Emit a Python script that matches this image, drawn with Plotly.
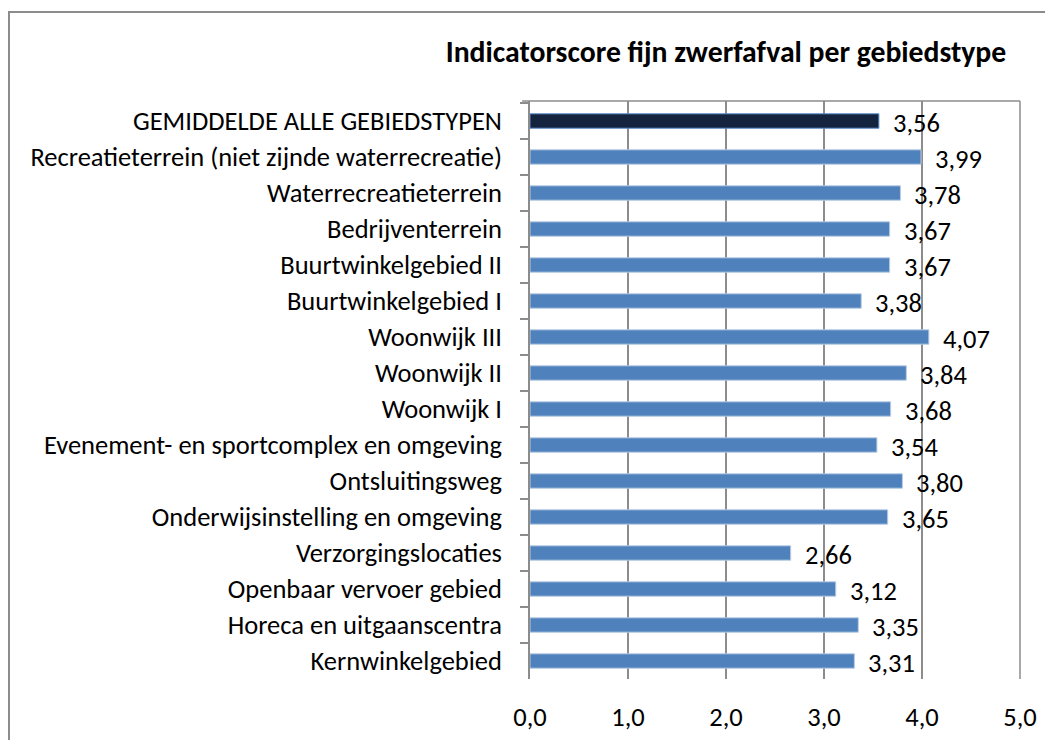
import plotly.graph_objects as go

# data, read top-down from the chart
categories = [
    "GEMIDDELDE ALLE GEBIEDSTYPEN",
    "Recreatieterrein (niet zijnde waterrecreatie)",
    "Waterrecreatieterrein",
    "Bedrijventerrein",
    "Buurtwinkelgebied II",
    "Buurtwinkelgebied I",
    "Woonwijk III",
    "Woonwijk II",
    "Woonwijk I",
    "Evenement- en sportcomplex en omgeving",
    "Ontsluitingsweg",
    "Onderwijsinstelling en omgeving",
    "Verzorgingslocaties",
    "Openbaar vervoer gebied",
    "Horeca en uitgaanscentra",
    "Kernwinkelgebied",
]
scores = [3.56, 3.99, 3.78, 3.67, 3.67, 3.38, 4.07, 3.84, 3.68,
          3.54, 3.80, 3.65, 2.66, 3.12, 3.35, 3.31]
x_ticks = [0, 1, 2, 3, 4, 5]

FONT = "Calibri, Carlito, Open Sans, sans-serif"
SIZE = 26.5
GRID = "#8C8C8C"

bar_colors = ["#14243E"] + ["#4F81BD"] * (len(categories) - 1)
line_colors = ["#5B8FD0"] + ["#B9CDE5"] * (len(categories) - 1)

bars = go.Bar(
    x=scores,
    y=categories,
    orientation="h",
    width=0.4,
    marker=dict(color=bar_colors, line=dict(color=line_colors, width=1)),
    hoverinfo="x+y",
)

fig = go.Figure(data=[bars])

# value labels, Excel style: a bit right of the bar end and slightly lower
for cat, val in zip(categories, scores):
    fig.add_annotation(
        x=val, y=cat, text=f"{val:.2f}".replace(".", ","),
        showarrow=False, xanchor="left", yanchor="middle",
        xshift=12, yshift=-2,
        font=dict(family=FONT, size=SIZE, color="black"),
    )

# outer chart border (page has an 8px body margin, plot area is offset for it)
fig.add_shape(type="rect", xref="paper", yref="paper",
              x0=-1.0633, x1=1.12, y0=-0.15, y1=1.154,
              line=dict(color="#8C8C8C", width=2), layer="below")
# plot area top and right edge
fig.add_shape(type="line", xref="paper", yref="paper",
              x0=-0.016, x1=1, y0=1, y1=1, line=dict(color=GRID, width=1.5))
fig.add_shape(type="line", xref="paper", yref="paper",
              x0=1, x1=1, y0=0, y1=1, line=dict(color=GRID, width=1.5))

fig.update_layout(
    width=1053, height=740,
    margin=dict(l=522, r=41, t=93, b=69),
    paper_bgcolor="white", plot_bgcolor="white",
    separators=",.",
    showlegend=False,
    font=dict(family=FONT, size=SIZE, color="black"),
    title=dict(
        text="<b>Indicatorscore fijn zwerfafval per gebiedstype</b>",
        x=0.4, xref="paper", xanchor="center",
        y=1 - 44 / 740, yref="container", yanchor="middle",
        font=dict(family=FONT, size=29.7, color="black"),
    ),
    xaxis=dict(
        range=[0, 5], tickvals=x_ticks, tickformat=".1f",
        showgrid=True, gridcolor=GRID, gridwidth=1.5,
        zeroline=False, showline=False, ticks="",
        ticklabelstandoff=19,
        tickfont=dict(family=FONT, size=SIZE),
        fixedrange=True,
    ),
    yaxis=dict(
        autorange="reversed", type="category",
        showline=True, linecolor=GRID, linewidth=1.5,
        ticks="outside", ticklen=8, tickcolor=GRID, tickwidth=1.5,
        tickson="boundaries",
        showgrid=False,
        ticklabelstandoff=21,
        tickfont=dict(family=FONT, size=SIZE),
        fixedrange=True,
    ),
)

fig.write_html("out.html")
